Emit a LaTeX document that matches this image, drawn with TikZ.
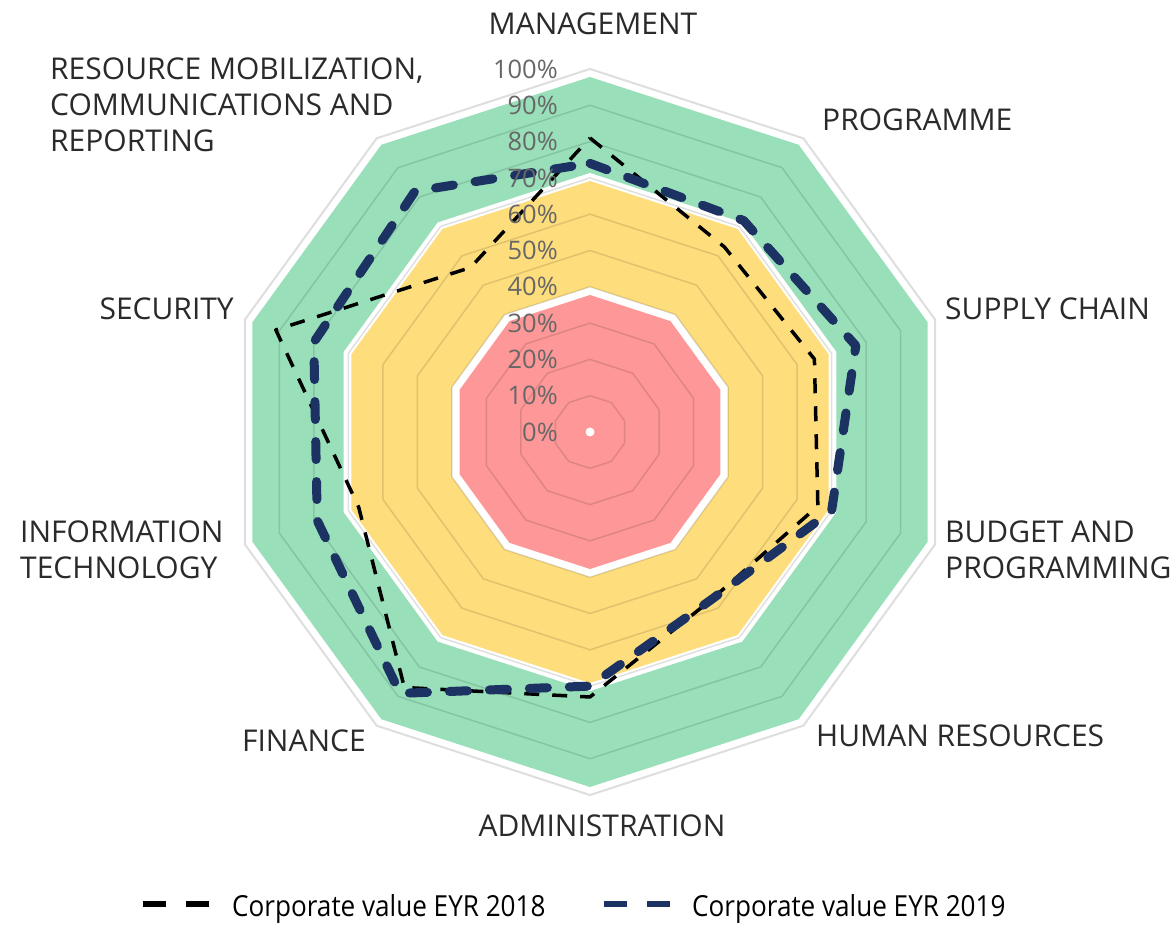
\documentclass[tikz,border=0pt]{standalone}
\usepackage{fontspec}
\setmainfont{Open Sans}
\newfontfamily\legendfont[FakeStretch=0.9]{Open Sans}
\definecolor{bandgreen}{HTML}{98DFBA}
\definecolor{bandyellow}{HTML}{FEDD7C}
\definecolor{bandred}{HTML}{FE9797}
\definecolor{eyrnavy}{HTML}{1C3262}
\definecolor{ticktext}{HTML}{676767}
\definecolor{axtext}{HTML}{2A2A2A}
\newcommand\decagon[1]{(90:#1) \foreach \a in {54,18,...,-234}{-- (\a:#1)} -- cycle}

\begin{document}
\begin{tikzpicture}[x=1pt,y=1pt]
	\tikzset{
		axlabel/.style={inner sep=0pt,text=axtext,align=left,font=\fontsize{30}{36}\selectfont},
		ticklabel/.style={inner sep=0pt,anchor=east,text=ticktext,font=\fontsize{25.5}{26}\selectfont},
		legtext/.style={inner sep=0pt,anchor=base west,text=black,font=\legendfont\fontsize{29}{30}\selectfont},
		ring/.style={draw=black,draw opacity=.12,line width=1.5},
		eyrold/.style={draw=black,line width=3.5,dash pattern=on 15 off 13,line join=round},
		eyrnew/.style={draw=eyrnavy,line width=9,line cap=round,line join=round,dash pattern=on 18 off 22}}
	\useasboundingbox (-590,-493) rectangle (584,432);
	\fill[bandgreen] \decagon{355};
	\fill[white] \decagon{259};
	\fill[bandyellow] \decagon{251};
	\fill[white] \decagon{145};
	\fill[bandred] \decagon{137};
	\foreach \k in {1,...,9} \draw[ring] \decagon{36.3*\k};
	\draw[black!13,line width=2] \decagon{363};
	\foreach \v [count=\i from 0] in {81,63,65,66,57,73,87,67,91,56}
		\coordinate (old\i) at (90-36*\i:3.63*\v);
	\foreach \v [count=\i from 0] in {74,72,77,70,57,70,89,79,80,82}
		\coordinate (new\i) at (90-36*\i:3.63*\v);
	\draw[eyrold] (old0) \foreach \i in {1,...,9}{-- (old\i)} -- cycle;
	\draw[eyrnew] (new0) \foreach \i in {1,...,9}{-- (new\i)} -- cycle;
	\foreach \k [evaluate=\k as \pc using int(10*\k)] in {0,...,10}
		\node[ticklabel] (tick\k) at (-32,36.3*\k) {\pc\%};
	\fill[white] (0,0) circle (4.5);
	\node[axlabel] (lblman) at (3,408) {MANAGEMENT};
	\node[axlabel,anchor=west] (lblprog) at (232,312) {PROGRAMME};
	\node[axlabel,anchor=west] (lblsupply) at (355,123) {SUPPLY CHAIN};
	\node[axlabel,anchor=west] (lblbudget) at (355,-118) {BUDGET AND\\PROGRAMMING};
	\node[axlabel,anchor=west] (lblhr) at (226,-304) {HUMAN RESOURCES};
	\node[axlabel] (lbladmin) at (12,-394) {ADMINISTRATION};
	\node[axlabel,anchor=east] (lblfin) at (-224,-309) {FINANCE};
	\node[axlabel,anchor=west] (lblit) at (-570,-118) {INFORMATION\\TECHNOLOGY};
	\node[axlabel,anchor=east] (lblsec) at (-356,123) {SECURITY};
	\node[axlabel,anchor=west] (lblres) at (-540,327) {RESOURCE MOBILIZATION,\\COMMUNICATIONS AND\\REPORTING};
	\coordinate (legolda) at (-447,-472);
	\coordinate (legoldb) at (-381,-472);
	\coordinate (legnewa) at (14,-472);
	\coordinate (legnewb) at (80,-472);
	\draw[black,line width=6,dash pattern=on 23 off 20] (legolda) -- (legoldb);
	\draw[eyrnavy,line width=6,dash pattern=on 23 off 20] (legnewa) -- (legnewb);
	\node[legtext] (legold) at (-358,-484) {Corporate value EYR 2018};
	\node[legtext] (legnew) at (102,-484) {Corporate value EYR 2019};
\end{tikzpicture}
\end{document}
